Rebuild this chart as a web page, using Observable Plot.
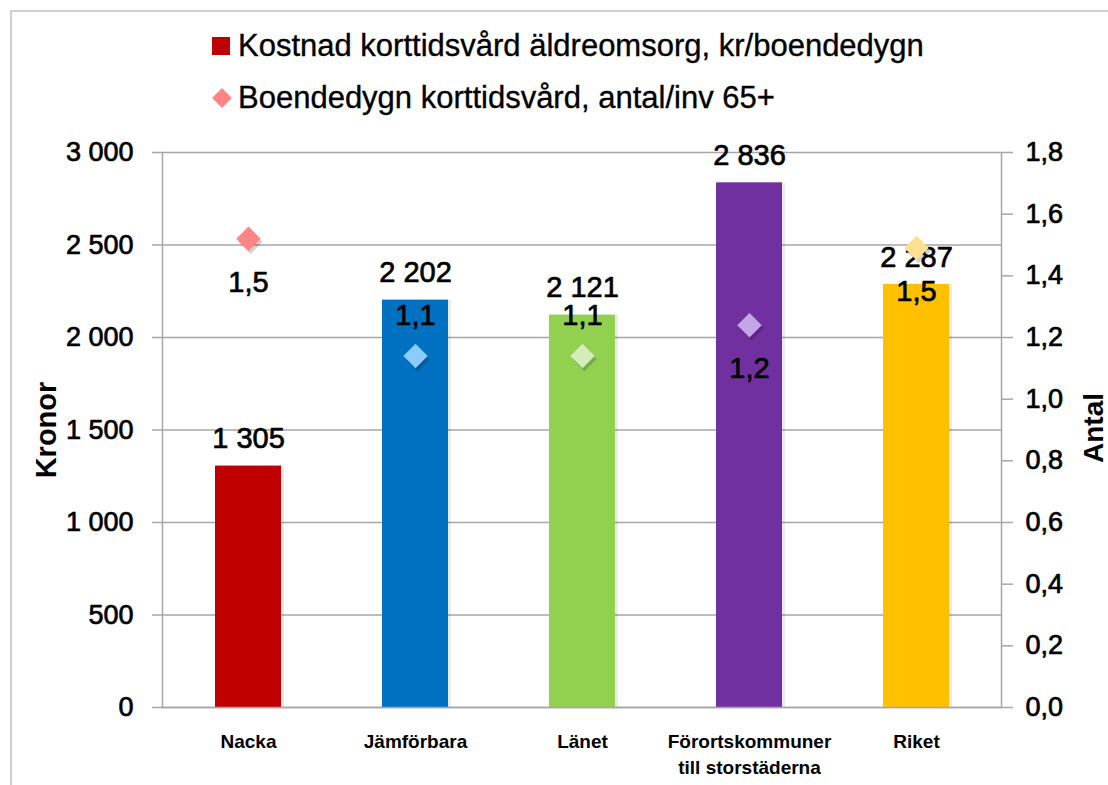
<!DOCTYPE html>
<html><head><meta charset="utf-8">
<script src="https://cdn.jsdelivr.net/npm/d3@7"></script>
<script src="https://cdn.jsdelivr.net/npm/@observablehq/plot@0.6"></script>
<style>
body{margin:0;background:#fff;overflow:hidden;}
#wrap{position:relative;width:1108px;height:785px;overflow:hidden;font-family:"Liberation Sans",Arial,sans-serif;background:#fff;}
#frame{position:absolute;left:10px;top:10px;width:1200px;height:1000px;border-left:2px solid #d0d0d0;border-top:2px solid #d0d0d0;}
.leg{position:absolute;left:212px;height:40px;font-size:31px;color:#000;display:flex;align-items:center;white-space:nowrap;-webkit-text-stroke:0.35px #000;}
.sw{width:18px;height:18px;margin-right:8px;flex:none;}
.dia{width:14px;height:14px;transform:rotate(45deg);margin:0 9px 0 3px;flex:none;}
#chart{position:absolute;left:0;top:128px;}
</style></head>
<body><div id="wrap"><div id="frame"></div><div id="legend"></div><div id="chart"></div></div>
<script>
// ---- data ----
const categories = ["Nacka", "Jämförbara", "Länet", "Förortskommuner till storstäderna", "Riket"];
const categoryLabels = ["Nacka", "Jämförbara", "Länet", "Förortskommuner\ntill storstäderna", "Riket"];
const costs = [1305, 2202, 2121, 2836, 2287];          // Kostnad korttidsvård, kr/boendedygn
const antal = [1.52, 1.14, 1.14, 1.24, 1.49];           // Boendedygn korttidsvård, antal/inv 65+
const barColors = ["#C00000", "#0070C0", "#92D050", "#7030A0", "#FFC000"];
const diamondColors = ["#FF8585", "#8CCBFF", "#D3ECB8", "#C3A5E8", "#FFE08E"];
const leftTicks = [0, 500, 1000, 1500, 2000, 2500, 3000];
const rightTicks = [0, 0.2, 0.4, 0.6, 0.8, 1.0, 1.2, 1.4, 1.6, 1.8];
const seriesNames = ["Kostnad korttidsvård äldreomsorg, kr/boendedygn", "Boendedygn korttidsvård, antal/inv 65+"];
const legendColors = ["#C00000", "#FF8585"];

// ---- helpers ----
const loc = d3.formatLocale({decimal: ",", thousands: " ", grouping: [3], currency: ["", " kr"]});
const fmtInt = loc.format(",d");
const fmt1 = loc.format(".1f");
const K = 3000 / 1.8; // right-axis value -> left-axis units
const aboveSet = new Set(["Jämförbara", "Länet"]);

const rows = categories.map((c, i) => ({
  cat: c, cost: costs[i], antal: antal[i], barColor: barColors[i], diaColor: diamondColors[i]
}));

// ---- legend ----
const legend = document.getElementById("legend");
legend.innerHTML =
  `<div class="leg" style="top:26px"><div class="sw" style="background:${legendColors[0]}"></div>${seriesNames[0]}</div>` +
  `<div class="leg" style="top:78px"><div class="dia" style="background:${legendColors[1]}"></div>${seriesNames[1]}</div>`;

const axisColor = "#a6a6a6";
const font = '"Liberation Sans", Arial, sans-serif';
const heavy = {fill: "#000", stroke: "#000", strokeWidth: 0.7};

const chart = Plot.plot({
  width: 1108, height: 655,
  marginLeft: 162, marginRight: 107, marginTop: 24, marginBottom: 76,
  style: {fontFamily: font, background: "transparent", overflow: "visible", color: "#000"},
  x: {domain: categories, paddingInner: 0.607, paddingOuter: 0.3035, label: null},
  y: {domain: [0, 3000], label: null},
  color: {type: "identity"},
  marks: [
    Plot.gridY(leftTicks, {stroke: axisColor, strokeOpacity: 1, strokeWidth: 1.5}),
    Plot.barY(rows, {x: "cat", y: "cost", fill: "#000", fillOpacity: 0.08, dx: 3}),
    Plot.barY(rows, {x: "cat", y: "cost", fill: "barColor"}),
    Plot.frame({anchor: "left", stroke: axisColor, strokeWidth: 1.5}),
    Plot.frame({anchor: "right", stroke: axisColor, strokeWidth: 1.5}),
    Plot.frame({anchor: "bottom", stroke: axisColor, strokeWidth: 1.5}),
    // left axis ticks + labels
    Plot.axisY({ticks: leftTicks, tickSize: 10, tickFormat: () => "", stroke: axisColor, strokeWidth: 1.5, label: null}),
    Plot.text(leftTicks, {y: d => d, frameAnchor: "left", textAnchor: "end", dx: -29, text: d => fmtInt(d), fontSize: 27, ...heavy}),
    // right axis (Antal), mapped through the same y scale
    Plot.axisY({anchor: "right", ticks: rightTicks.map(v => v * K), tickSize: 11, tickFormat: () => "", stroke: axisColor, strokeWidth: 1.5, label: null}),
    Plot.text(rightTicks, {y: d => d * K, frameAnchor: "right", textAnchor: "start", dx: 24, text: d => fmt1(d), fontSize: 27, ...heavy}),
    Plot.axisX({tickSize: 0, tickPadding: 22, fontSize: 19, fontWeight: "bold", lineHeight: 1.37,
      tickFormat: c => categoryLabels[categories.indexOf(c)], fill: "#000", label: null}),
    // value labels for bars
    Plot.text(rows, {x: "cat", y: "cost", text: d => fmtInt(d.cost), dy: -27, fontSize: 29, ...heavy}),
    // diamonds (right axis)
    Plot.dot(rows, {x: "cat", y: d => d.antal * K, symbol: "diamond2", r: 11, fill: "#000", fillOpacity: 0.18, dx: 2, dy: 3, stroke: null}),
    Plot.dot(rows, {x: "cat", y: d => d.antal * K, symbol: "diamond2", r: 11, fill: "diaColor", stroke: null}),
    Plot.text(rows.filter(d => aboveSet.has(d.cat)), {x: "cat", y: d => d.antal * K, text: d => fmt1(d.antal), dy: -40, fontSize: 29, ...heavy}),
    Plot.text(rows.filter(d => !aboveSet.has(d.cat)), {x: "cat", y: d => d.antal * K, text: d => fmt1(d.antal), dy: 44, fontSize: 29, ...heavy}),
    // axis titles
    Plot.text(["Kronor"], {frameAnchor: "left", textAnchor: "middle", text: d => d, rotate: -90, dx: -116, dy: 0, fontSize: 29, fontWeight: "bold", fill: "#000"}),
    Plot.text(["Antal"], {frameAnchor: "right", textAnchor: "middle", text: d => d, rotate: -90, dx: 93, dy: -2, fontSize: 28, fontWeight: "bold", fill: "#000"})
  ]
});
document.getElementById("chart").appendChild(chart);
</script>
</body></html>
